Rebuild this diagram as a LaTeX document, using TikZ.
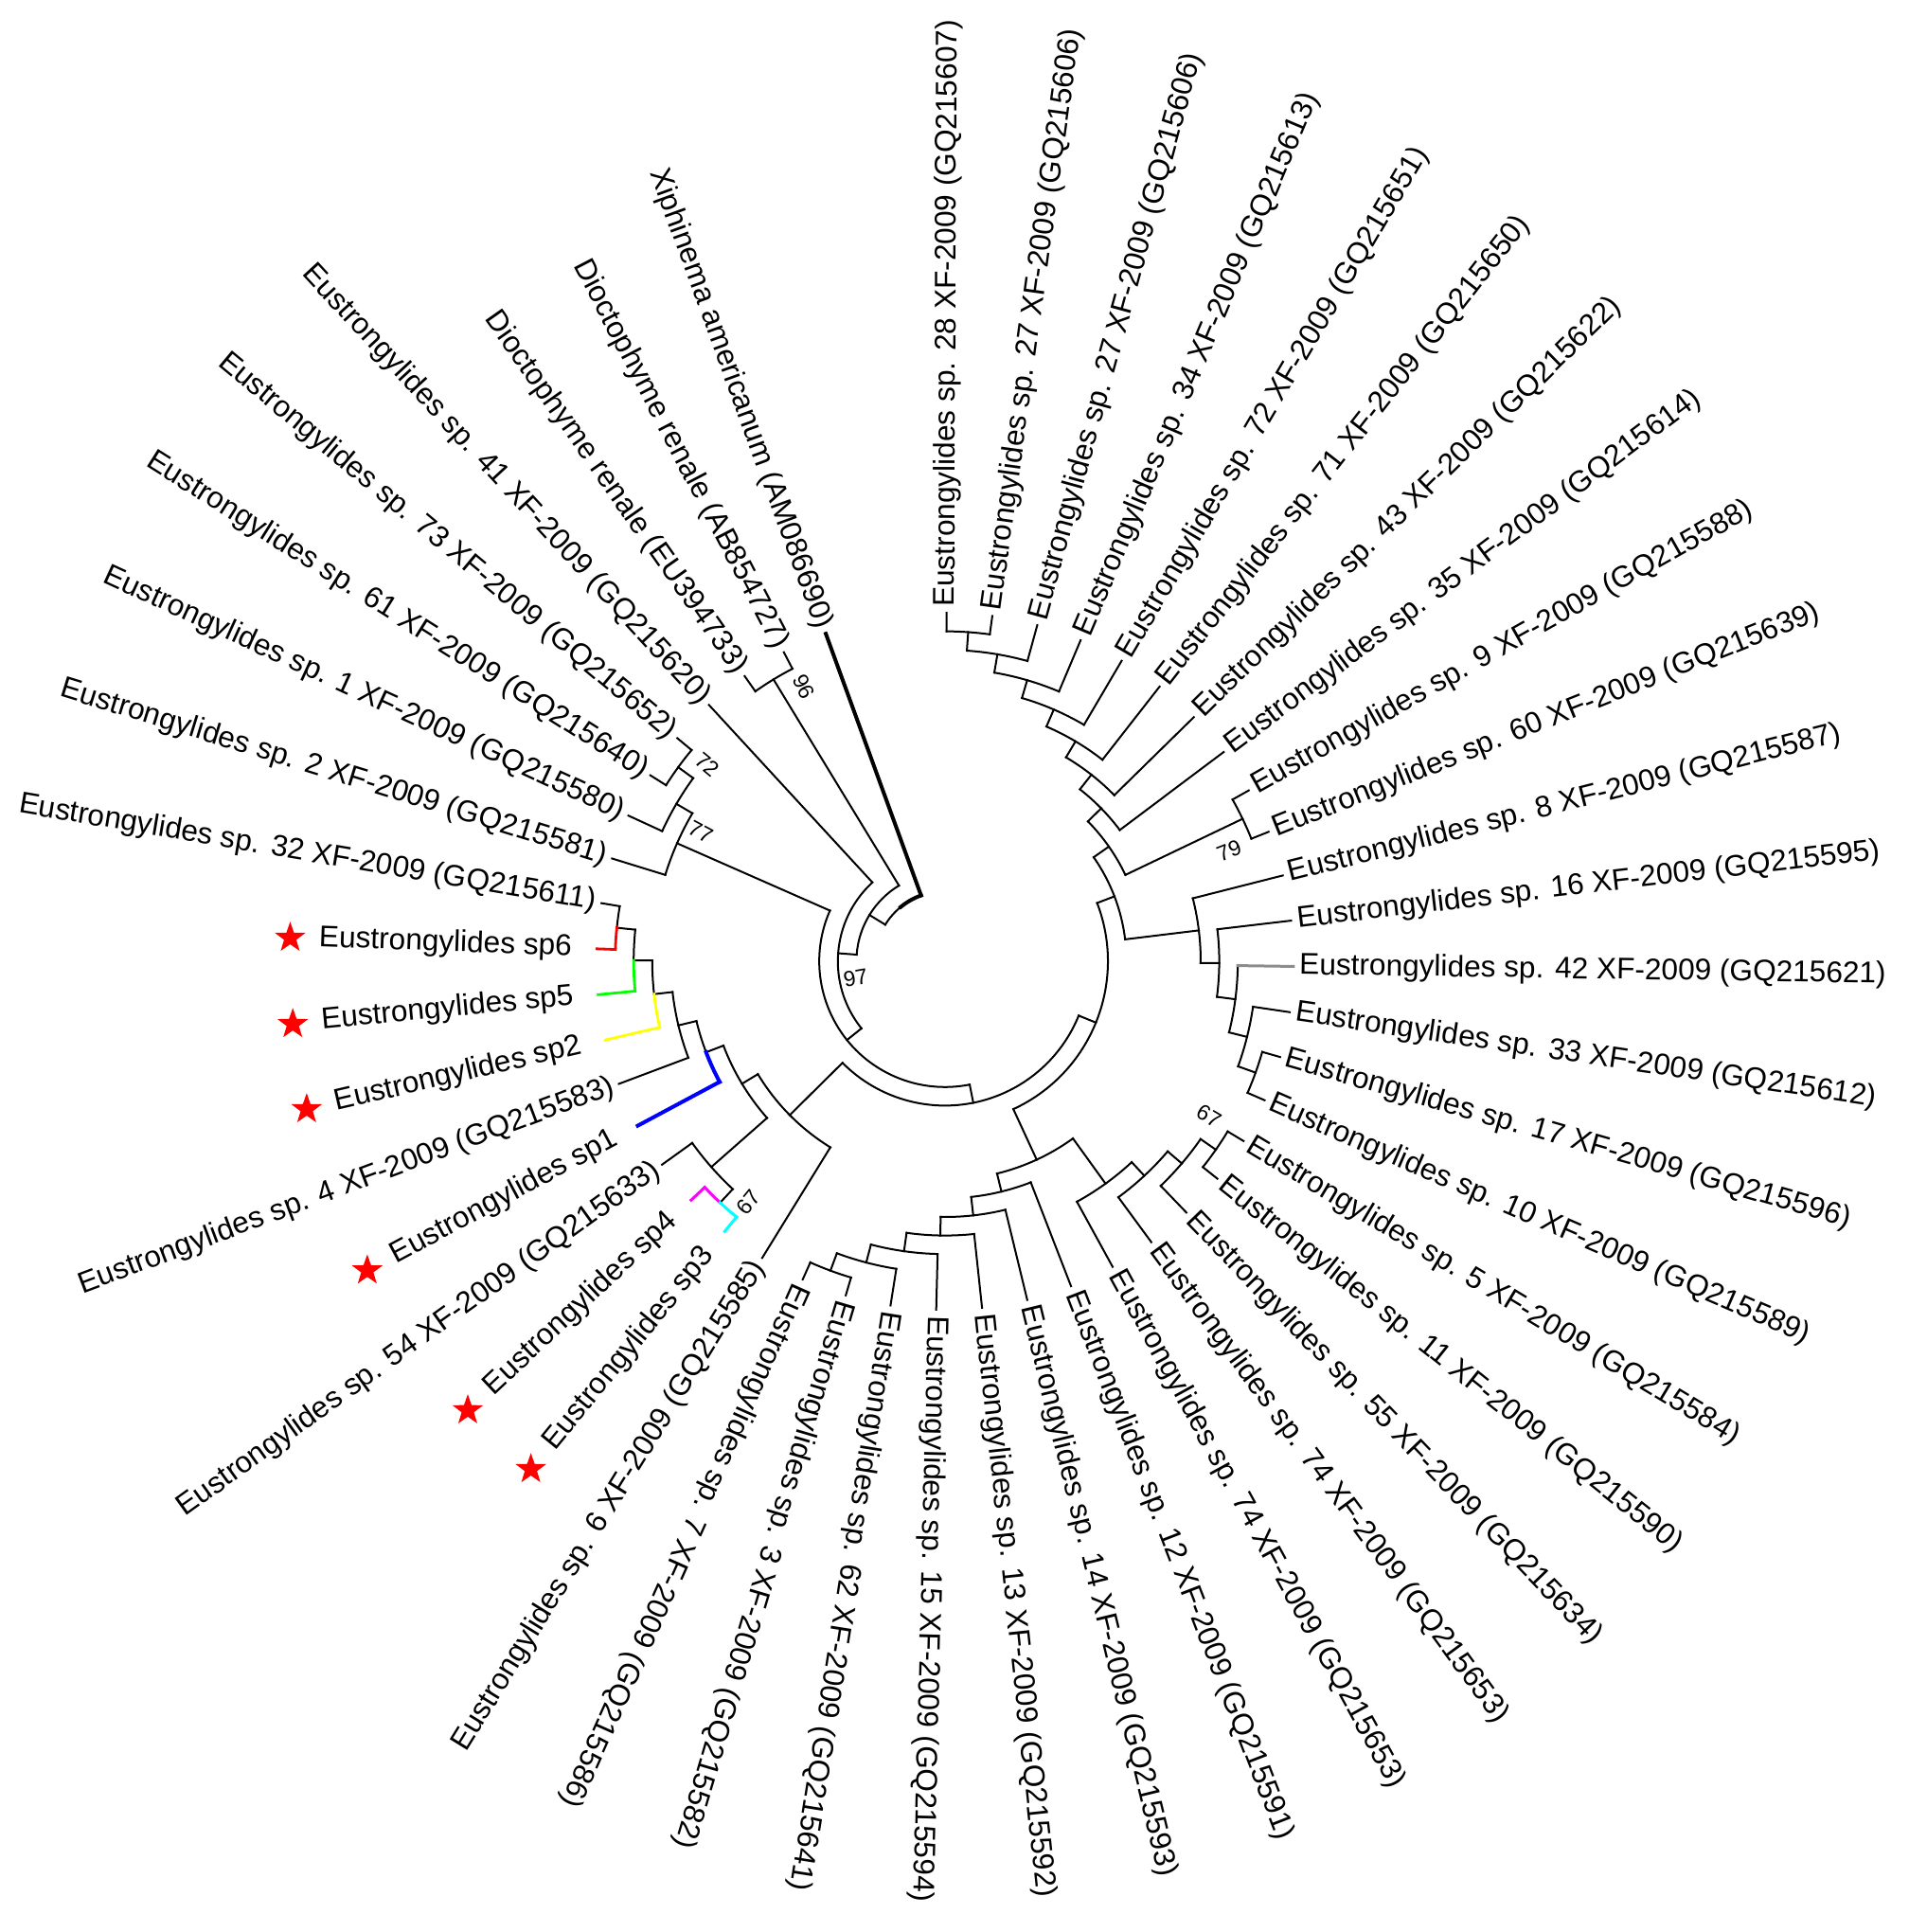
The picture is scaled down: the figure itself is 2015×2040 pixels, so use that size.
\documentclass[tikz,border=0pt]{standalone}
\usepackage{fontspec}
\setmainfont{Liberation Sans}
\usetikzlibrary{shapes.geometric}
\definecolor{pureR}{RGB}{255,0,0}
\definecolor{pureG}{RGB}{0,255,0}
\definecolor{pureY}{RGB}{255,255,0}
\definecolor{pureB}{RGB}{0,0,255}
\definecolor{pureM}{RGB}{255,0,255}
\definecolor{pureC}{RGB}{0,255,255}
\definecolor{midgrey}{RGB}{140,140,140}
\tikzset{
  branch/.style={line width=1pt, line cap=rect, draw=black},
  thickbr/.style={line width=2pt},
  redb/.style={draw=pureR, line width=1.4pt},
  greenb/.style={draw=pureG, line width=1.4pt},
  yellowb/.style={draw=pureY, line width=1.4pt},
  blueb/.style={draw=pureB, line width=2pt},
  magb/.style={draw=pureM, line width=1.5pt},
  cyanb/.style={draw=pureC, line width=1.5pt},
  greyb/.style={draw=midgrey, line width=1.5pt},
  leaflab/.style={inner sep=0pt, font=\fontsize{15.8}{18}\selectfont, text height=11.5pt, text depth=3.3pt},
  bslab/.style={inner sep=0pt, font=\fontsize{11.5}{13}\selectfont},
  redstar/.style={star, star points=5, star point ratio=2.5, fill=pureR, draw=none, minimum size=17pt, inner sep=0pt},
}
% arc of an internal node: [style]{from angle}{to angle}{radius in px}
\newcommand\arcseg[4][]{\pgfmathsetmacro\myrad{#4*0.5}\draw[branch,#1] (#2:#4) arc[start angle=#2, end angle=#3, radius=\myrad pt];}
% stem of an internal node: [style]{name}{angle}{r from}{r to}
\newcommand\stem[5][]{\coordinate (#2-b) at (#3:#4);\coordinate (#2) at (#3:#5);\draw[branch,#1] (#2-b) -- (#2);}
% leaves: right side (reads outward)
\newcommand\leafR[5][]{\coordinate (#2-b) at (#3:#4);\coordinate (#2) at (#3:368);\draw[branch,#1] (#2-b) -- (#2);
  \node[leaflab, anchor=west, rotate=#3] (#2-l) at (#3:374) {#5};}
% leaves: left side (flipped)
\newcommand\leafL[5][]{\coordinate (#2-b) at (#3:#4);\coordinate (#2) at (#3:368);\draw[branch,#1] (#2-b) -- (#2);
  \node[leaflab, anchor=east, rotate=#3-180] (#2-l) at (#3:374) {#5};}
% leaves with star
\newcommand\leafS[5][]{\coordinate (#2-b) at (#3:#4);\coordinate (#2) at (#3:368);\draw[branch,#1] (#2-b) -- (#2);
  \node[leaflab, anchor=east, rotate=#3-180] (#2-l) at (#3:394) {#5};
  \node[redstar] (#2-s) at (#3:692) {};}
\begin{document}
\begin{tikzpicture}[x=0.5pt,y=0.5pt]
\useasboundingbox (-998,-1025) rectangle (1017,1015);
% ---------- internal nodes ----------
\arcseg[thickbr]{110}{129.26}{74}
\arcseg{129.26}{148.52}{74}
\stem{R1}{148.52}{74}{93.6}
\arcseg{121.325}{175.71}{93.6}
\stem{N96}{121.325}{93.6}{348.4}
\arcseg{117.55}{125.1}{348.4}
\stem{R2}{175.71}{93.6}{113.2}
\arcseg{132.65}{218.77}{113.2}
\stem{R3}{218.77}{113.2}{132.8}
\arcseg{156.24}{281.3}{132.8}
\stem{A}{156.24}{132.8}{309.2}
\arcseg{149.6375}{162.85}{309.2}
\stem{B}{149.6375}{309.2}{328.8}
\arcseg{143.975}{155.3}{328.8}
\stem{C}{143.975}{328.8}{348.4}
\arcseg{140.2}{147.75}{348.4}
\stem{R4}{281.3}{132.8}{152.4}
\arcseg{224.725}{337.88}{152.4}
\stem{L}{224.725}{152.4}{230.8}
\arcseg{211.1}{238.35}{230.8}
\stem{L1}{211.1}{230.8}{250.4}
\arcseg{200.84}{221.36}{250.4}
\stem{L4}{200.84}{250.4}{270}
\arcseg{193.52}{200.84}{270}
\stem{L5}{193.52}{270}{289.6}
\arcseg{186.445}{200.6}{289.6}
\stem{L6}{186.445}{289.6}{309.2}
\arcseg{179.84}{186.445}{309.2}
\stem{L7}{179.84}{309.2}{328.8}
\arcseg{174.175}{179.84}{328.8}
\stem{L8}{174.175}{328.8}{348.4}
\arcseg{170.4}{174.175}{348.4}
\stem{L2}{221.36}{250.4}{328.8}
\arcseg{215.7}{227.025}{328.8}
\stem{L3}{227.025}{328.8}{348.4}
\stem{R5}{337.88}{152.4}{172}
\arcseg{294.8}{380.96}{172}
\stem{B1}{294.8}{172}{230.8}
\arcseg{283.77}{305.83}{230.8}
\stem{B2}{283.77}{230.8}{250.4}
\arcseg{276.335}{291.2}{250.4}
\stem{B7}{276.335}{250.4}{270}
\arcseg{269.02}{283.65}{270}
\stem{B8}{269.02}{270}{289.6}
\arcseg{261.945}{276.1}{289.6}
\stem{B9}{261.945}{289.6}{309.2}
\arcseg{255.34}{268.55}{309.2}
\stem{B10}{255.34}{309.2}{328.8}
\arcseg{249.675}{261}{328.8}
\stem{B11}{249.675}{328.8}{348.4}
\arcseg{245.9}{253.45}{348.4}
\stem{B3}{305.83}{230.8}{289.6}
\arcseg{298.75}{312.905}{289.6}
\stem{B4}{312.905}{289.6}{309.2}
\arcseg{306.3}{319.51}{309.2}
\stem{B5}{319.51}{309.2}{328.8}
\arcseg{313.85}{325.175}{328.8}
\stem{B6}{325.175}{328.8}{348.4}
\arcseg{321.4}{328.95}{348.4}
\stem{R6}{380.96}{172}{191.6}
\arcseg{366.935}{394.98}{191.6}
\stem{R7}{366.935}{191.6}{270}
\arcseg{359.62}{374.25}{270}
\stem{R8}{359.62}{270}{289.6}
\arcseg{352.545}{366.7}{289.6}
\stem{R9}{352.545}{289.6}{309.2}
\arcseg{345.94}{359.15}{309.2}
\stem{R10}{345.94}{309.2}{328.8}
\arcseg{340.275}{351.6}{328.8}
\stem{R11}{340.275}{328.8}{348.4}
\arcseg{336.5}{344.05}{348.4}
\stem{U1}{394.98}{191.6}{211.2}
\arcseg{385.575}{404.39}{211.2}
\stem{N79}{385.575}{211.2}{348.4}
\arcseg{381.8}{389.35}{348.4}
\stem{U2}{404.39}{211.2}{230.8}
\arcseg{396.9}{411.88}{230.8}
\stem{U3}{411.88}{230.8}{250.4}
\arcseg{404.45}{419.315}{250.4}
\stem{U4}{419.315}{250.4}{270}
\arcseg{412}{426.63}{270}
\stem{U5}{426.63}{270}{289.6}
\arcseg{419.55}{433.705}{289.6}
\stem{U6}{433.705}{289.6}{309.2}
\arcseg{427.1}{440.31}{309.2}
\stem{U7}{440.31}{309.2}{328.8}
\arcseg{434.65}{445.975}{328.8}
\stem{U8}{445.975}{328.8}{348.4}
\arcseg{442.2}{449.75}{348.4}
% ---------- leaves ----------
\leafL[thickbr]{t0}{110}{74}{Xiphinema americanum (AM086690)}
\leafL{t1}{117.55}{348.4}{Dioctophyme renale (AB854727)}
\leafL{t2}{125.1}{348.4}{Dioctophyme renale (EU394733)}
\leafL{t3}{132.65}{113.2}{Eustrongylides sp. 41 XF-2009 (GQ215620)}
\leafL{t4}{140.2}{348.4}{Eustrongylides sp. 73 XF-2009 (GQ215652)}
\leafL{t5}{147.75}{348.4}{Eustrongylides sp. 61 XF-2009 (GQ215640)}
\leafL{t6}{155.3}{328.8}{Eustrongylides sp. 1 XF-2009 (GQ215580)}
\leafL{t7}{162.85}{309.2}{Eustrongylides sp. 2 XF-2009 (GQ215581)}
\leafL{t8}{170.4}{348.4}{Eustrongylides sp. 32 XF-2009 (GQ215611)}
\leafS[redb]{t9}{177.95}{348.4}{Eustrongylides sp6}
\leafS[greenb]{t10}{185.5}{328.8}{Eustrongylides sp5}
\leafS[yellowb]{t11}{193.05}{309.2}{Eustrongylides sp2}
\leafL{t12}{200.6}{289.6}{Eustrongylides sp. 4 XF-2009 (GQ215583)}
\leafS[blueb]{t13}{208.15}{270}{Eustrongylides sp1}
\leafL{t14}{215.7}{328.8}{Eustrongylides sp. 54 XF-2009 (GQ215633)}
\leafS[magb]{t15}{223.25}{348.4}{Eustrongylides sp4}
\leafS[cyanb]{t16}{230.8}{348.4}{Eustrongylides sp3}
\leafL{t17}{238.35}{230.8}{Eustrongylides sp. 6 XF-2009 (GQ215585)}
\leafR{t18}{245.9}{348.4}{Eustrongylides sp. 7 XF-2009 (GQ215586)}
\leafR{t19}{253.45}{348.4}{Eustrongylides sp. 3 XF-2009 (GQ215582)}
\leafR{t20}{261}{328.8}{Eustrongylides sp. 62 XF-2009 (GQ215641)}
\leafR{t21}{268.55}{309.2}{Eustrongylides sp. 15 XF-2009 (GQ215594)}
\leafR{t22}{276.1}{289.6}{Eustrongylides sp. 13 XF-2009 (GQ215592)}
\leafR{t23}{283.65}{270}{Eustrongylides sp. 14 XF-2009 (GQ215593)}
\leafR{t24}{291.2}{250.4}{Eustrongylides sp. 12 XF-2009 (GQ215591)}
\leafR{t25}{298.75}{289.6}{Eustrongylides sp. 74 XF-2009 (GQ215653)}
\leafR{t26}{306.3}{309.2}{Eustrongylides sp. 74 XF-2009 (GQ215653)}
\leafR{t27}{313.85}{328.8}{Eustrongylides sp. 55 XF-2009 (GQ215634)}
\leafR{t28}{321.4}{348.4}{Eustrongylides sp. 11 XF-2009 (GQ215590)}
\leafR{t29}{328.95}{348.4}{Eustrongylides sp. 5 XF-2009 (GQ215584)}
\leafR{t30}{336.5}{348.4}{Eustrongylides sp. 10 XF-2009 (GQ215589)}
\leafR{t31}{344.05}{348.4}{Eustrongylides sp. 17 XF-2009 (GQ215596)}
\leafR{t32}{351.6}{328.8}{Eustrongylides sp. 33 XF-2009 (GQ215612)}
\leafR[greyb]{t33}{359.15}{309.2}{Eustrongylides sp. 42 XF-2009 (GQ215621)}
\leafR{t34}{366.7}{289.6}{Eustrongylides sp. 16 XF-2009 (GQ215595)}
\leafR{t35}{374.25}{270}{Eustrongylides sp. 8 XF-2009 (GQ215587)}
\leafR{t36}{381.8}{348.4}{Eustrongylides sp. 60 XF-2009 (GQ215639)}
\leafR{t37}{389.35}{348.4}{Eustrongylides sp. 9 XF-2009 (GQ215588)}
\leafR{t38}{396.9}{230.8}{Eustrongylides sp. 35 XF-2009 (GQ215614)}
\leafR{t39}{404.45}{250.4}{Eustrongylides sp. 43 XF-2009 (GQ215622)}
\leafR{t40}{412}{270}{Eustrongylides sp. 71 XF-2009 (GQ215650)}
\leafR{t41}{419.55}{289.6}{Eustrongylides sp. 72 XF-2009 (GQ215651)}
\leafR{t42}{427.1}{309.2}{Eustrongylides sp. 34 XF-2009 (GQ215613)}
\leafR{t43}{434.65}{328.8}{Eustrongylides sp. 27 XF-2009 (GQ215606)}
\leafR{t44}{442.2}{348.4}{Eustrongylides sp. 27 XF-2009 (GQ215606)}
\leafR{t45}{449.75}{348.4}{Eustrongylides sp. 28 XF-2009 (GQ215607)}
% ---------- coloured node arcs ----------
\arcseg[blueb]{200.84}{208.15}{270}
\arcseg[yellowb]{186.445}{193.05}{309.2}
\arcseg[greenb]{179.84}{185.5}{328.8}
\arcseg[redb]{174.175}{177.95}{348.4}
\arcseg[magb]{227.025}{223.25}{348.4}
\arcseg[cyanb]{227.025}{230.8}{348.4}
% ---------- bootstrap values ----------
\node[bslab, rotate=-62.8] (bs96) at (117.2:326) {96};
\node[bslab, rotate=-39.6] (bs72) at (140.35:326) {72};
\node[bslab, rotate=-27.9] (bs77) at (152.1:292) {77};
\node[bslab, rotate=10] (bs97) at (190.5:96) {97};
\node[bslab, rotate=21.3] (bs79) at (21.3:322) {79};
\node[bslab, rotate=-30.4] (bs67a) at (-30.4:323) {67};
\node[bslab, rotate=50.8] (bs67b) at (230.8:329) {67};
\end{tikzpicture}
\end{document}
